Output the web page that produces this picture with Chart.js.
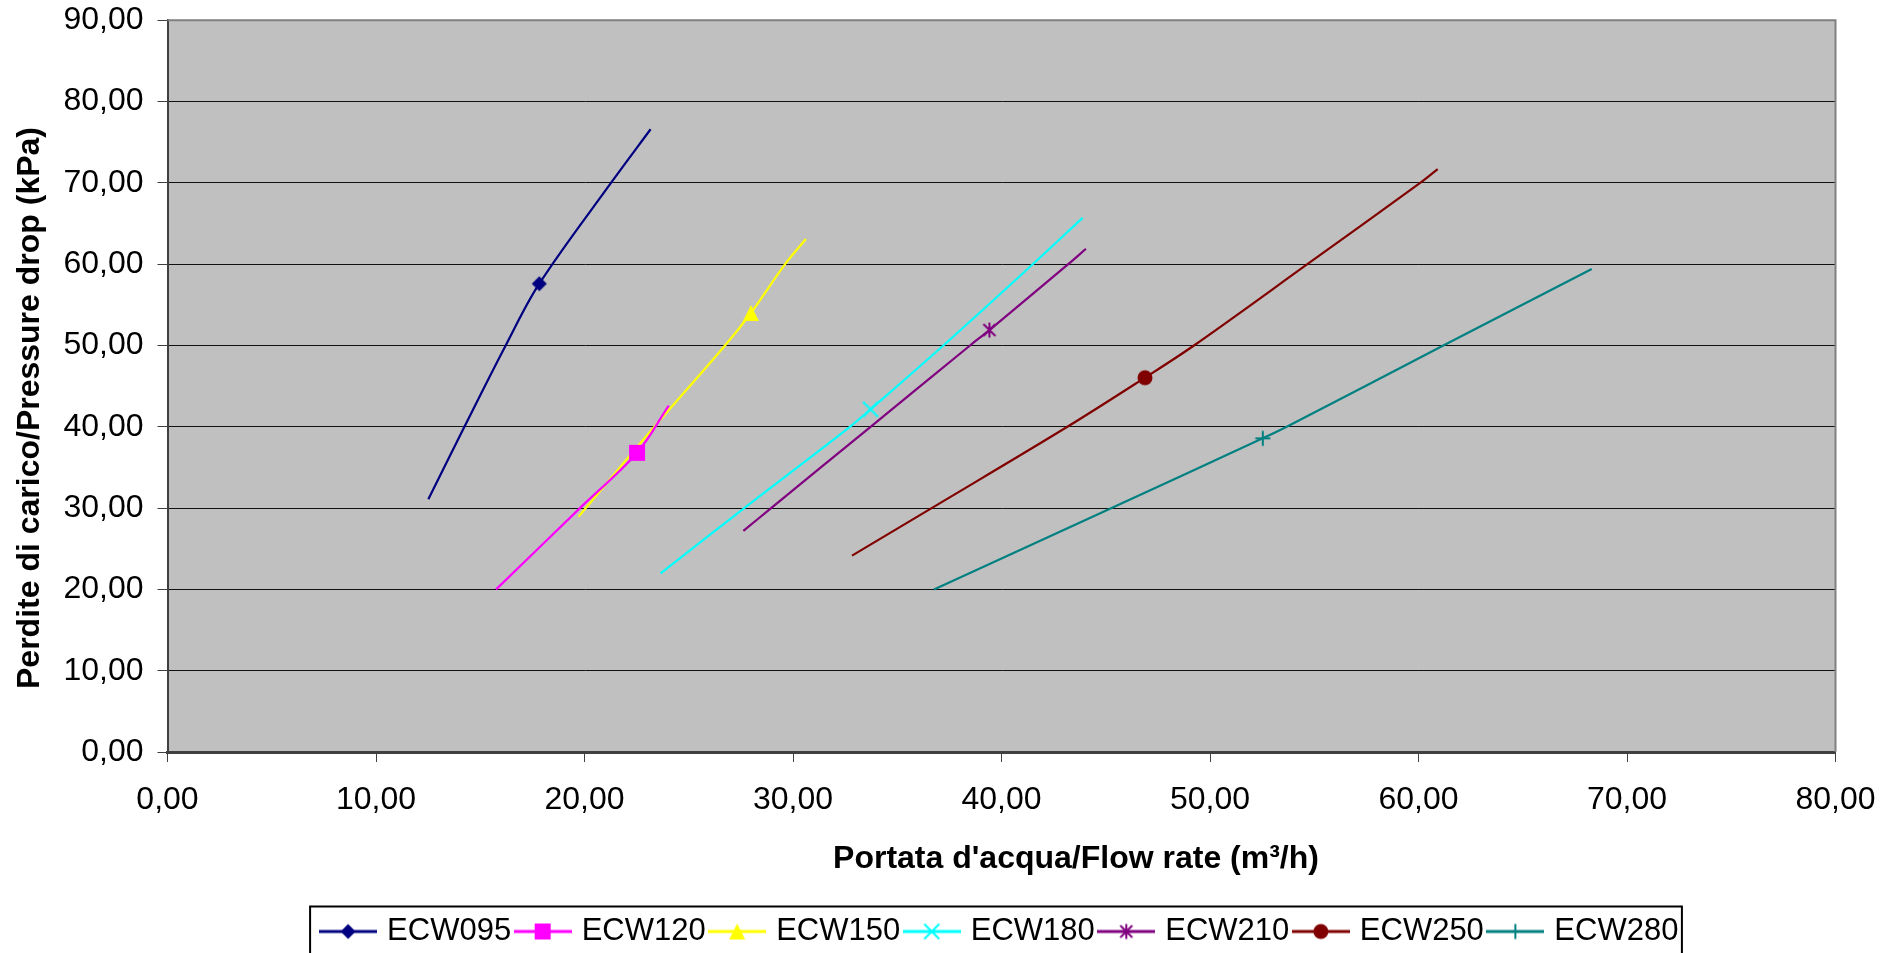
<!DOCTYPE html>
<html>
<head>
<meta charset="utf-8">
<title>Perdite di carico / Pressure drop</title>
<script src="https://cdn.jsdelivr.net/npm/chart.js@4.4.1/dist/chart.umd.min.js"></script>
<style>
  html, body { margin: 0; padding: 0; background: #fff; }
  #wrap { width: 1899px; height: 953px; position: relative; }
</style>
</head>
<body>
<div id="wrap"><canvas id="chart" width="1899" height="953"></canvas></div>
<script>
const FONT = '"Liberation Sans", Arial, sans-serif';

// --- Data ---
const seriesNames = ['ECW095', 'ECW120', 'ECW150', 'ECW180', 'ECW210', 'ECW250', 'ECW280'];
const seriesColors = ['#000080', '#ff00ff', '#ffff00', '#00ffff', '#800080', '#800000', '#008080'];
const seriesMarkers = ['diamond', 'square', 'triangle', 'x', 'star', 'circle', 'plus'];

const ecw095Flow = [12.51, 14.24, 16.22, 17.83, 21.27, 23.17];
const ecw095Drop = [31.1, 40.0, 50.0, 57.6, 70.0, 76.6];

const ecw120Flow = [15.76, 19.78, 22.52, 24.04];
const ecw120Drop = [20.0, 30.0, 36.8, 42.6];

const ecw150Flow = [19.72, 23.35, 26.74, 27.98, 29.62, 30.62];
const ecw150Drop = [28.95, 40.0, 50.0, 54.0, 60.0, 63.1];

const ecw180Flow = [23.65, 27.66, 32.73, 33.72, 37.21, 41.5, 43.89];
const ecw180Drop = [21.98, 30.0, 40.0, 42.15, 50.0, 60.0, 65.7];

const ecw210Flow = [27.62, 28.95, 33.72, 38.49, 39.42, 43.2, 44.05];
const ecw210Drop = [27.2, 30.0, 40.0, 50.0, 51.9, 60.0, 61.9];

const ecw250Flow = [32.83, 36.65, 43.16, 46.88, 49.23, 54.67, 60.08, 60.92];
const ecw250Drop = [24.15, 30.0, 40.0, 46.04, 50.0, 60.0, 70.0, 71.7];

const ecw280Flow = [36.76, 45.28, 52.53, 53.68, 61.19, 68.31];
const ecw280Drop = [20.0, 30.0, 38.58, 40.0, 50.0, 59.4];

// index of the point that carries the marker in each series
const markerIndex = [3, 2, 3, 3, 4, 3, 2];

const flows = [ecw095Flow, ecw120Flow, ecw150Flow, ecw180Flow, ecw210Flow, ecw250Flow, ecw280Flow];
const drops = [ecw095Drop, ecw120Drop, ecw150Drop, ecw180Drop, ecw210Drop, ecw250Drop, ecw280Drop];

const xMin = 0, xMax = 80, xStep = 10;
const yMin = 0, yMax = 90, yStep = 10;

// --- Marker drawing (Excel-like symbols) ---
function drawMarker(ctx, type, color, cx, cy) {
  const h = 7.5;
  ctx.fillStyle = color;
  ctx.strokeStyle = color;
  ctx.lineWidth = 2;
  ctx.beginPath();
  if (type === 'diamond') {
    ctx.moveTo(cx, cy - h); ctx.lineTo(cx + h, cy); ctx.lineTo(cx, cy + h); ctx.lineTo(cx - h, cy);
    ctx.closePath(); ctx.fill();
  } else if (type === 'square') {
    ctx.rect(cx - 8, cy - 8, 16, 16); ctx.fill();
  } else if (type === 'triangle') {
    ctx.moveTo(cx, cy - 8); ctx.lineTo(cx + 8, cy + 8); ctx.lineTo(cx - 8, cy + 8);
    ctx.closePath(); ctx.fill();
  } else if (type === 'circle') {
    ctx.arc(cx, cy, h, 0, Math.PI * 2); ctx.fill();
  } else if (type === 'x') {
    ctx.moveTo(cx - h, cy - h); ctx.lineTo(cx + h, cy + h);
    ctx.moveTo(cx + h, cy - h); ctx.lineTo(cx - h, cy + h); ctx.stroke();
  } else if (type === 'star') {
    ctx.moveTo(cx - 6, cy - 6); ctx.lineTo(cx + 6, cy + 6);
    ctx.moveTo(cx + 6, cy - 6); ctx.lineTo(cx - 6, cy + 6);
    ctx.moveTo(cx, cy - h); ctx.lineTo(cx, cy + h); ctx.stroke();
  } else if (type === 'plus') {
    ctx.moveTo(cx - h, cy); ctx.lineTo(cx + h, cy);
    ctx.moveTo(cx, cy - h); ctx.lineTo(cx, cy + h); ctx.stroke();
  }
}

function makeMarker(type, color) {
  const c = document.createElement('canvas');
  c.width = 22; c.height = 22;
  drawMarker(c.getContext('2d'), type, color, 11, 11);
  return c;
}

function makeLegendIcon(type, color) {
  const c = document.createElement('canvas');
  c.width = 58; c.height = 24;
  const ctx = c.getContext('2d');
  ctx.strokeStyle = color;
  ctx.lineWidth = 3;
  ctx.beginPath(); ctx.moveTo(0, 12); ctx.lineTo(58, 12); ctx.stroke();
  drawMarker(ctx, type, color, 29, 12);
  return c;
}

const markerImgs = seriesMarkers.map((m, i) => makeMarker(m, seriesColors[i]));
const legendIcons = seriesMarkers.map((m, i) => makeLegendIcon(m, seriesColors[i]));

const fmt = v => v.toFixed(2).replace('.', ',');

const datasets = seriesNames.map((name, i) => ({
  label: name,
  data: flows[i].map((x, j) => ({ x, y: drops[i][j] })),
  showLine: true,
  borderColor: seriesColors[i],
  backgroundColor: seriesColors[i],
  borderWidth: 2.2,
  tension: 0.35,
  pointStyle: markerImgs[i],
  pointRadius: flows[i].map((_, j) => (j === markerIndex[i] ? 8 : 0)),
  pointHoverRadius: 0
}));

// --- Plot area fill, frame, axis titles, legend frame ---
const excelLook = {
  id: 'excelLook',
  beforeDraw(chart) {
    const { ctx, chartArea: a } = chart;
    ctx.save();
    ctx.fillStyle = '#c0c0c0';
    ctx.fillRect(a.left, a.top, a.right - a.left, a.bottom - a.top);
    ctx.restore();
  },
  beforeDatasetsDraw(chart) {
    const { ctx, chartArea: a } = chart;
    ctx.save();
    ctx.strokeStyle = '#808080';
    ctx.lineWidth = 2;
    ctx.beginPath();
    ctx.moveTo(a.left, a.top); ctx.lineTo(a.right, a.top); ctx.lineTo(a.right, a.bottom);
    ctx.stroke();
    ctx.restore();
  },
  afterDraw(chart) {
    const { ctx } = chart;
    ctx.save();
    ctx.fillStyle = '#000';
    ctx.font = 'bold 32px ' + FONT;
    ctx.textAlign = 'center';
    ctx.textBaseline = 'middle';
    ctx.fillText("Portata d'acqua/Flow rate (m³/h)", 1076, 859);
    ctx.translate(30, 408);
    ctx.rotate(-Math.PI / 2);
    ctx.fillText('Perdite di carico/Pressure drop (kPa)', 0, 0);
    ctx.restore();

    const hb = chart.legend.legendHitBoxes;
    if (hb && hb.length) {
      const first = hb[0], last = hb[hb.length - 1];
      const left = first.left - 14.5;
      const right = last.left + last.width + 3.5;
      const top = first.top + 15.5 - 25;
      ctx.save();
      ctx.strokeStyle = '#000';
      ctx.lineWidth = 2;
      ctx.strokeRect(left, top, right - left, 80);
      ctx.restore();
    }
  }
};

new Chart(document.getElementById('chart').getContext('2d'), {
  type: 'scatter',
  data: { datasets },
  options: {
    responsive: false,
    animation: false,
    events: [],
    layout: { padding: { left: 0, right: 63.5, top: 20.3, bottom: -4 } },
    plugins: {
      tooltip: { enabled: false },
      legend: {
        position: 'bottom',
        fullSize: false,
        labels: {
          usePointStyle: true,
          pointStyleWidth: 47,
          padding: 8,
          color: '#000',
          font: { family: FONT, size: 31 },
          generateLabels: chart => chart.data.datasets.map((ds, i) => ({
            text: ds.label,
            pointStyle: legendIcons[i],
            fillStyle: seriesColors[i],
            strokeStyle: seriesColors[i],
            lineWidth: 0,
            hidden: false,
            datasetIndex: i
          }))
        }
      }
    },
    scales: {
      x: {
        type: 'linear',
        min: xMin, max: xMax,
        afterFit: s => { s.height = 156; },
        ticks: {
          stepSize: xStep, autoSkip: false, maxRotation: 0, padding: 19,
          color: '#000', font: { family: FONT, size: 32 },
          callback: v => fmt(v)
        },
        grid: { drawOnChartArea: false, drawTicks: true, tickLength: 10, tickColor: '#404040', tickWidth: 1 },
        border: { display: true, color: '#404040', width: 3 }
      },
      y: {
        type: 'linear',
        min: yMin, max: yMax,
        afterFit: s => { s.width = 167.5; s.paddingTop = 0; s.paddingBottom = 0; },
        ticks: {
          stepSize: yStep, padding: 14,
          color: '#000', font: { family: FONT, size: 32 },
          callback: v => fmt(v)
        },
        grid: { color: '#111', lineWidth: 1, drawTicks: true, tickLength: 10, tickColor: '#404040', tickWidth: 1 },
        border: { display: true, color: '#404040', width: 2 }
      }
    }
  },
  plugins: [excelLook]
});
</script>
</body>
</html>
